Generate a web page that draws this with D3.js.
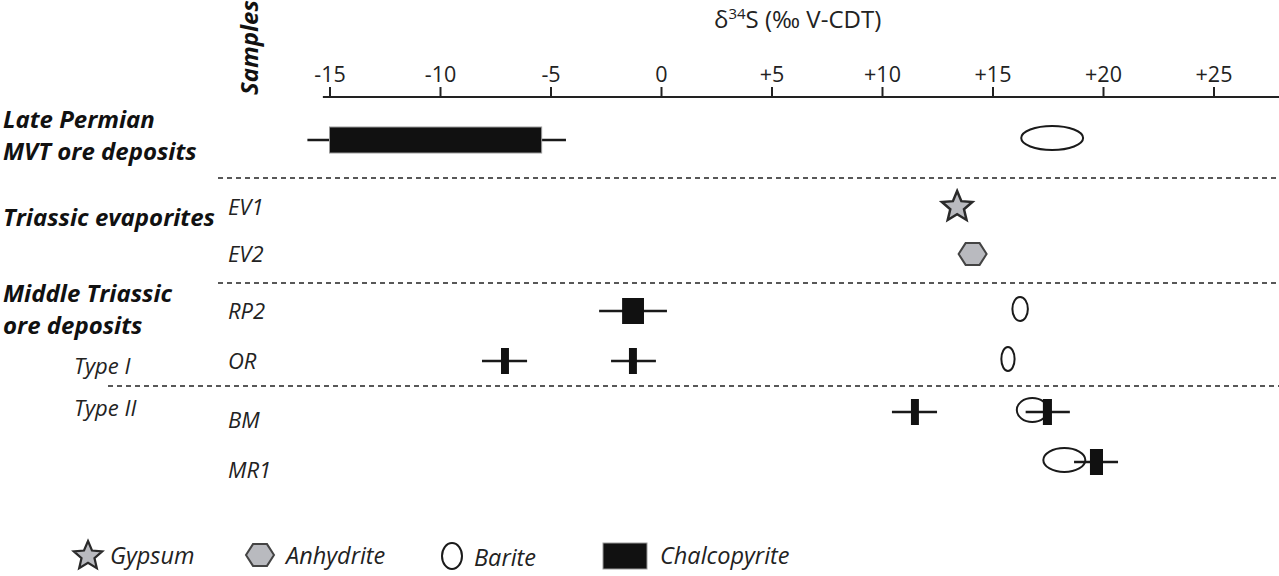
<!DOCTYPE html>
<meta charset="utf-8">
<style>
body { margin: 0; background: #fff; }
svg { font-family: "Open Sans", sans-serif; }
.group { font-weight: bold; font-style: italic; font-size: 24px; fill: #111; }
.sample { font-style: italic; font-size: 22px; fill: #222; }
.divider { stroke: #222; stroke-width: 1.5px; stroke-dasharray: 5 4; }
.whisker { stroke: #1a1a1a; stroke-width: 2.5px; }
.legend text { font-style: italic; font-size: 23.5px; fill: #222; }
</style>
<svg width="1279" height="576"></svg>
<script src="https://cdnjs.cloudflare.com/ajax/libs/d3/7.8.5/d3.min.js"></script>
<script>
// rows of the chart, top to bottom
var rows = ["MVT", "EV1", "EV2", "RP2", "OR", "BM", "MR1"];
var sampleLabels = ["EV1", "EV2", "RP2", "OR", "BM", "MR1"];
var tickValues = [-15, -10, -5, 0, 5, 10, 15, 20, 25];

// d34S values (permil V-CDT)
var gypsum = [{row: "EV1", value: 13.4}];
var anhydrite = [{row: "EV2", value: 14.1}];
var barite = [
  {row: "MVT", lo: 16.3, hi: 19.1},
  {row: "RP2", lo: 15.9, hi: 16.6},
  {row: "OR",  lo: 15.4, hi: 16.0},
  {row: "BM",  lo: 16.1, hi: 17.5},
  {row: "MR1", lo: 17.3, hi: 19.2}
];
var chalcopyrite = [
  {row: "MVT", lo: -15.0, hi: -5.4,  min: -16.0, max: -4.3},
  {row: "RP2", lo: -1.76, hi: -0.77, min: -2.8,  max: 0.27},
  {row: "OR",  lo: -7.24, hi: -6.88, min: -8.1,  max: -6.06},
  {row: "OR",  lo: -1.45, hi: -1.09, min: -2.26, max: -0.23},
  {row: "BM",  lo: 11.31, hi: 11.67, min: 10.45, max: 12.49},
  {row: "BM",  lo: 17.28, hi: 17.69, min: 16.5,  max: 18.5},
  {row: "MR1", lo: 19.41, hi: 20.0,  min: 18.69, max: 20.68}
];

var svg = d3.select("svg"),
    width = +svg.attr("width"),
    height = +svg.attr("height");

var x = d3.scaleLinear().domain([-15, 25]).range([329.5, 1213.5]);
var y = d3.scaleOrdinal().domain(rows).range([140, 207, 254, 311, 361, 412, 462]);

// axis
var axisY = 97;
svg.append("line")
    .attr("x1", x(-15.3)).attr("x2", width)
    .attr("y1", axisY).attr("y2", axisY)
    .attr("stroke", "#222").attr("stroke-width", 2);

var axis = svg.append("g")
    .attr("transform", "translate(0," + axisY + ")")
    .call(d3.axisTop(x).tickValues(tickValues).tickSize(10).tickPadding(5)
      .tickFormat(function(d) { return d > 0 ? "+" + d : String(d); }));
axis.select(".domain").remove();
axis.selectAll(".tick line").attr("stroke", "#222").attr("stroke-width", 2);
axis.selectAll(".tick text")
    .attr("font-family", "'Open Sans', sans-serif")
    .attr("font-size", 21.5).attr("fill", "#222");

var title = svg.append("text")
    .attr("x", 714).attr("y", 28)
    .attr("font-size", 24).attr("fill", "#222");
title.append("tspan").text("\u03b4");
title.append("tspan").attr("font-size", 15).attr("dy", -9).text("34");
title.append("tspan").attr("dy", 9).text("S (\u2030 V-CDT)");

svg.append("text")
    .attr("class", "group")
    .attr("font-size", 23)
    .attr("transform", "translate(258,95) rotate(-90)")
    .text("Samples");

// group labels
var groups = [
  ["Late Permian", 3, 128], ["MVT ore deposits", 3, 160],
  ["Triassic evaporites", 3, 226],
  ["Middle Triassic", 3, 302], ["ore deposits", 3, 334]
];
svg.selectAll("text.g-lab").data(groups).enter().append("text")
    .attr("class", "group")
    .attr("x", function(d) { return d[1]; })
    .attr("y", function(d) { return d[2]; })
    .text(function(d) { return d[0]; });

svg.append("text").attr("class", "sample").attr("x", 74).attr("y", 374).text("Type I");
svg.append("text").attr("class", "sample").attr("x", 74).attr("y", 416).text("Type II");

svg.selectAll("text.s-lab").data(sampleLabels).enter().append("text")
    .attr("class", "sample")
    .attr("x", 228)
    .attr("y", function(d) { return y(d) + (d === "BM" || d === "MR1" ? 16 : 8); })
    .text(function(d) { return d; });

// dashed separators
[[218, 178], [218, 283], [108, 386]].forEach(function(s) {
  svg.append("line").attr("class", "divider")
      .attr("x1", s[0]).attr("x2", width)
      .attr("y1", s[1]).attr("y2", s[1]);
});

// shapes
function starPath(R, r) {
  var p = [];
  for (var i = 0; i < 10; i++) {
    var a = -Math.PI / 2 + i * Math.PI / 5, rr = i % 2 ? r : R;
    p.push([rr * Math.cos(a), rr * Math.sin(a)]);
  }
  return "M" + p.join("L") + "Z";
}
function hexPath(R) {
  var p = [];
  for (var i = 0; i < 6; i++) {
    var a = i * Math.PI / 3;
    p.push([R * Math.cos(a), R * Math.sin(a) * 0.9]);
  }
  return "M" + p.join("L") + "Z";
}
var grey = "#b9babf", dark = "#2a2a2a";

svg.selectAll("path.gypsum").data(gypsum).enter().append("path")
    .attr("d", starPath(16, 7.2))
    .attr("transform", function(d) { return "translate(" + x(d.value) + "," + y(d.row) + ")"; })
    .attr("fill", grey).attr("stroke", dark).attr("stroke-width", 2.5);

svg.selectAll("path.anhydrite").data(anhydrite).enter().append("path")
    .attr("d", hexPath(14))
    .attr("transform", function(d) { return "translate(" + x(d.value) + "," + y(d.row) + ")"; })
    .attr("fill", grey).attr("stroke", "#444").attr("stroke-width", 2);

svg.selectAll("ellipse.barite").data(barite).enter().append("ellipse")
    .attr("cx", function(d) { return x((d.lo + d.hi) / 2); })
    .attr("cy", function(d) { return y(d.row) - 2; })
    .attr("rx", function(d) { return (x(d.hi) - x(d.lo)) / 2; })
    .attr("ry", 12)
    .attr("fill", "#fff").attr("stroke", "#1a1a1a").attr("stroke-width", 2);

var cp = svg.selectAll("g.cp").data(chalcopyrite).enter().append("g");
cp.append("line").attr("class", "whisker")
    .attr("x1", function(d) { return x(d.min); })
    .attr("x2", function(d) { return x(d.max); })
    .attr("y1", function(d) { return y(d.row); })
    .attr("y2", function(d) { return y(d.row); });
cp.append("rect")
    .attr("x", function(d) { return x(d.lo); })
    .attr("width", function(d) { return x(d.hi) - x(d.lo); })
    .attr("y", function(d) { return y(d.row) - 13; })
    .attr("height", 26)
    .attr("fill", "#111")
    .attr("stroke", function(d) { return d.row === "MVT" ? "#999" : "none"; });

// legend
var legend = svg.append("g").attr("class", "legend");
legend.append("path").attr("d", starPath(15, 6.8)).attr("transform", "translate(88,556)")
    .attr("fill", grey).attr("stroke", dark).attr("stroke-width", 2.2);
legend.append("text").attr("x", 110).attr("y", 564).text("Gypsum");
legend.append("path").attr("d", hexPath(14)).attr("transform", "translate(260,555)")
    .attr("fill", grey).attr("stroke", "#444").attr("stroke-width", 2);
legend.append("text").attr("x", 286).attr("y", 564).text("Anhydrite");
legend.append("ellipse").attr("cx", 452).attr("cy", 556).attr("rx", 10).attr("ry", 13)
    .attr("fill", "#fff").attr("stroke", "#1a1a1a").attr("stroke-width", 2);
legend.append("text").attr("x", 474).attr("y", 566).text("Barite");
legend.append("rect").attr("x", 603).attr("y", 543).attr("width", 44).attr("height", 26)
    .attr("fill", "#111").attr("stroke", "#999");
legend.append("text").attr("x", 660).attr("y", 564).text("Chalcopyrite");
</script>
